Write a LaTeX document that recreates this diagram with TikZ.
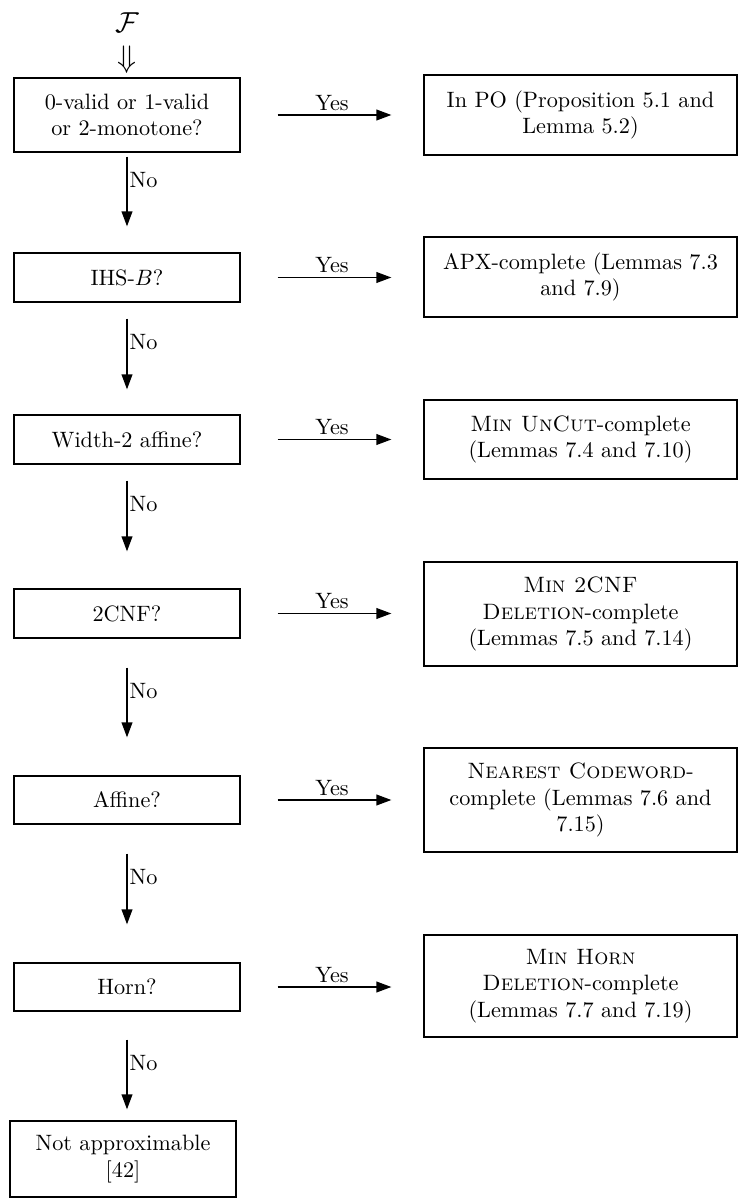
\documentclass[tikz,border=0pt]{standalone}
\usetikzlibrary{arrows.meta}
\def\px{0.45pt}
\begin{document}
\begin{tikzpicture}[x=0.45pt,y=-0.45pt,
  qbox/.style 2 args={draw, line width=0.5pt, inner sep=0pt, align=center,
    minimum width=#1*\px, minimum height=#2*\px},
  arr/.style={line width=0.85pt, -{Triangle[length=6.8pt,width=4.8pt]}},
  yeslbl/.style={above, inner sep=1.5pt},
  nolbl/.style={right, inner sep=0.8pt}]
\useasboundingbox (0,0) rectangle (739,1199);

\node[scale=1.3] (F) at (127,23) {$\mathcal{F}$};
\node[scale=1.4] (dn) at (127,60) {$\Downarrow$};

% question boxes
\node[qbox={226}{74}] (q1) at (127,115) {0-valid or 1-valid\\or 2-monotone?};
\node[qbox={226}{49}] (q2) at (127,277.5) {IHS-$B$?};
\node[qbox={226}{49}] (q3) at (127,439.5) {Width-2 affine?};
\node[qbox={226}{49}] (q4) at (127,613.5) {2CNF?};
\node[qbox={226}{48}] (q5) at (127,800) {Affine?};
\node[qbox={226}{48}] (q6) at (127,987) {Horn?};
\node[qbox={226}{76}] (q7) at (123,1159) {Not approximable\\{[42]}};

% result boxes
\node[qbox={313}{80}] (r1) at (580.5,115) {In PO (Proposition 5.1 and\\Lemma 5.2)};
\node[qbox={313}{80}] (r2) at (580.5,277) {APX-complete (Lemmas 7.3\\and 7.9)};
\node[qbox={313}{79}] (r3) at (580.5,439.5) {\textsc{Min UnCut}-complete\\(Lemmas 7.4 and 7.10)};
\node[qbox={313}{104}] (r4) at (580.5,614) {\textsc{Min 2CNF}\\\textsc{Deletion}-complete\\(Lemmas 7.5 and 7.14)};
\node[qbox={313}{104}] (r5) at (580.5,800) {\textsc{Nearest Codeword}-\\complete (Lemmas 7.6 and\\7.15)};
\node[qbox={313}{102}] (r6) at (580.5,986) {\textsc{Min Horn}\\\textsc{Deletion}-complete\\(Lemmas 7.7 and 7.19)};

% Yes arrows
\foreach \i in {1,...,6}{
  \draw[arr, shorten <=37*\px, shorten >=32*\px] (q\i.east) -- (q\i.east -| r\i.west)
    node[yeslbl, midway] {Yes};
}

% No arrows
\draw[arr, shorten <=4*\px, shorten >=26*\px] (q1.south) -- (q1.south |- q2.north) node[nolbl, pos=0.277] {No};
\draw[arr, shorten <=16*\px, shorten >=25*\px] (q2.south) -- (q2.south |- q3.north) node[nolbl, pos=0.354] {No};
\draw[arr, shorten <=16*\px, shorten >=37*\px] (q3.south) -- (q3.south |- q4.north) node[nolbl, pos=0.32] {No};
\draw[arr, shorten <=29*\px, shorten >=38*\px] (q4.south) -- (q4.south |- q5.north) node[nolbl, pos=0.384] {No};
\draw[arr, shorten <=29*\px, shorten >=38*\px] (q5.south) -- (q5.south |- q6.north) node[nolbl, pos=0.381] {No};
\draw[arr, shorten <=28*\px, shorten >=11*\px] (q6.south) -- (q6.south |- q7.north) node[nolbl, pos=0.473] {No};
\end{tikzpicture}
\end{document}
